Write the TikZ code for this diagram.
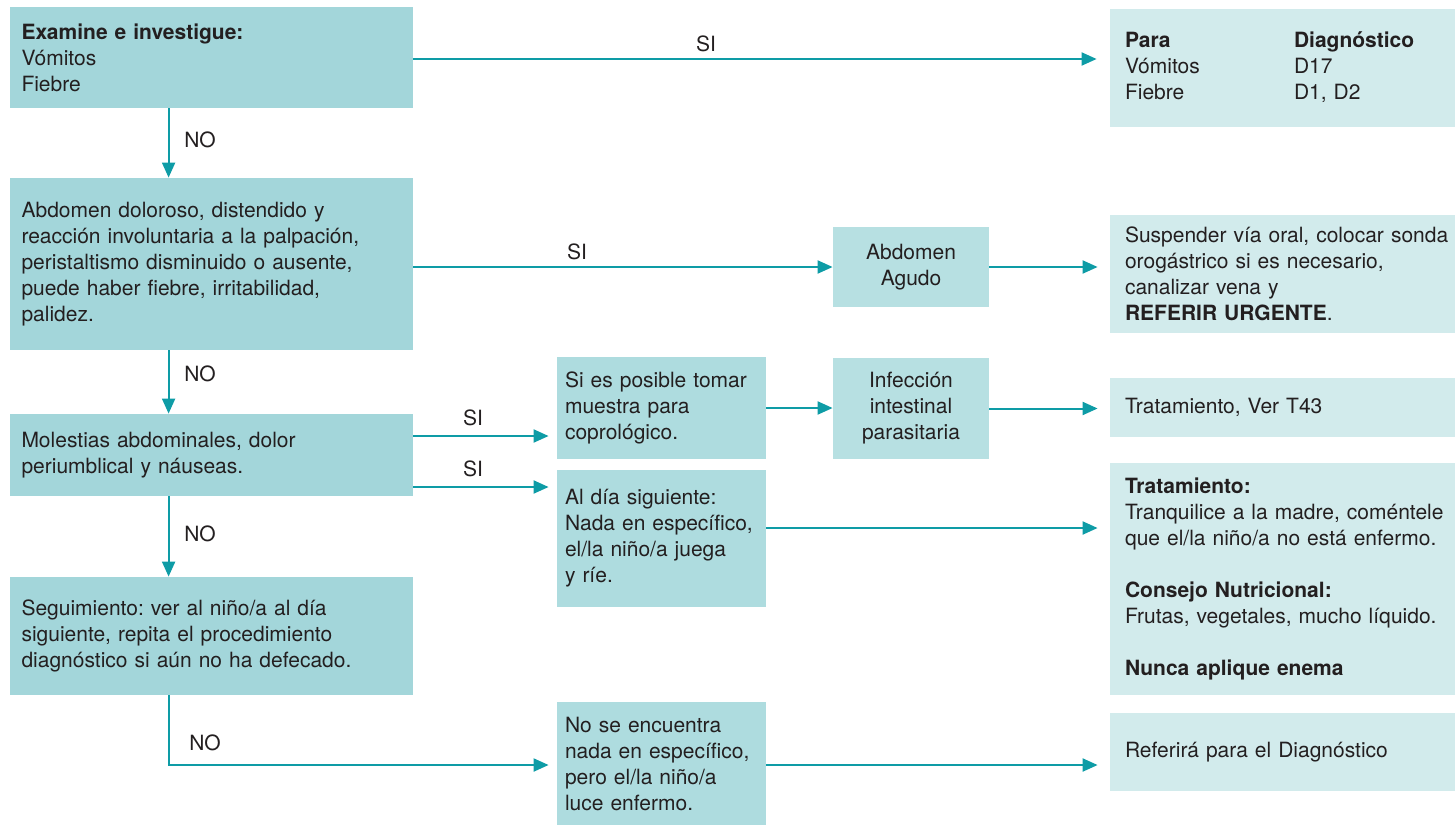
\documentclass[tikz,border=0pt]{standalone}
\usepackage{fontspec}
\setmainfont{TeX Gyre Heros}
\usetikzlibrary{arrows.meta}
\definecolor{arrc}{HTML}{0E9CA6}
\definecolor{lfill}{HTML}{A3D6DA}
\definecolor{mfill}{HTML}{AEDCDF}
\definecolor{cfill}{HTML}{B7E0E2}
\definecolor{rfill}{HTML}{D2EBEC}
\definecolor{txt}{HTML}{231F20}
\frenchspacing
\begin{document}
\begin{tikzpicture}[x=0.5pt,y=-0.5pt,
  every node/.style={font=\fontsize{10.5}{13}\selectfont\frenchspacing, text=txt},
  lbox/.style={fill=lfill, draw=none, minimum width=201.5pt, text width=190pt, inner xsep=5pt, inner ysep=0pt, align=left},
  mbox/.style={fill=mfill, draw=none, minimum width=104.5pt, text width=96.5pt, inner xsep=4pt, inner ysep=0pt, align=left},
  cbox/.style={fill=cfill, draw=none, minimum width=78pt, text width=70pt, inner xsep=4pt, inner ysep=0pt, align=center},
  rbox/.style={fill=rfill, draw=none, minimum width=172.5pt, text width=157.5pt, inner xsep=7.5pt, inner ysep=0pt, align=left},
  arr/.style={draw=arrc, line width=1pt, -{Triangle[length=7.5pt,width=6.5pt]}},
  lbl/.style={inner sep=0pt}
]
\useasboundingbox (0,0) rectangle (1455,825);

% left column
\node[lbox, minimum height=50.5pt] (A) at (211.5,57.5) {\textbf{Examine e investigue:}\\ Vómitos\\ Fiebre};
\node[lbox, minimum height=86pt] (B) at (211.5,264) {Abdomen doloroso, distendido y\\ \mbox{reacción involuntaria a la palpación,}\\ \mbox{peristaltismo disminuido o ausente,}\\ puede haber fiebre, irritabilidad,\\ palidez.};
\node[lbox, minimum height=41pt] (C) at (211.5,455) {Molestias abdominales, dolor\\ periumblical y náuseas.};
\node[lbox, minimum height=59pt] (D) at (211.5,636) {Seguimiento: ver al niño/a al día\\ siguiente, repita el procedimiento\\ \mbox{diagnóstico si aún no ha defecado.}};

% middle column
\node[mbox, minimum height=51pt] (M1) at (661.5,408) {\mbox{Si es posible tomar}\\ muestra para\\ coprológico.};
\node[mbox, minimum height=68.5pt] (M2) at (661.5,538.5) {Al día siguiente:\\ \mbox{Nada en específico,}\\ el/la niño/a juega\\ y ríe.};
\node[mbox, minimum height=61.5pt] (M3) at (661.5,763.5) {No se encuentra\\ \mbox{nada en específico,}\\ pero el/la niño/a\\ luce enfermo.};
\node[cbox, minimum height=40pt] (AA) at (911,267) {Abdomen\\ Agudo};
\node[cbox, minimum height=50.5pt] (INF) at (911,408.5) {Infección\\ intestinal\\ parasitaria};

% right column
\node[rbox, minimum height=59pt] (R1) at (1282.5,68) {\begin{tabular}{@{}p{84.5pt}@{}l@{}}\textbf{Para} & \textbf{Diagnóstico}\\ Vómitos & D17\\ Fiebre & D1, D2\end{tabular}};
\node[rbox, minimum height=59pt] (R2) at (1282.5,274) {\mbox{Suspender vía oral, colocar sonda}\\ orogástrico si es necesario,\\ canalizar vena y\\ \textbf{REFERIR URGENTE}.};
\node[rbox, minimum height=29.5pt] (R3) at (1282.5,407.5) {Tratamiento, Ver T43};
\node[rbox, minimum height=116pt] (R4) at (1282.5,579) {\textbf{Tratamiento:}\\ \mbox{Tranquilice a la madre, coméntele}\\ \mbox{que el/la niño/a no está enfermo.}\\[13pt] \textbf{Consejo Nutricional:}\\ \mbox{Frutas, vegetales, mucho líquido.}\\[13pt] \textbf{Nunca aplique enema}};
\node[rbox, minimum height=39pt] (R5) at (1282.5,752) {Referirá para el Diagnóstico\\[6pt]};

% connectors
\draw[arr, shorten >=6.5pt] ([yshift=-0.75pt]A.east) -- ([yshift=-0.75pt]A.east -| R1.west);
\draw[arr] ([xshift=79.5pt]A.south west) -- ([xshift=79.5pt]B.north west);
\draw[arr] (AA.west -| B.east) -- (AA.west);
\draw[arr, shorten >=6pt] (AA.east) -- (AA.east -| R2.west);
\draw[arr] ([xshift=79.5pt]B.south west) -- ([xshift=79.5pt]C.north west);
\draw[arr, shorten >=4pt] ([yshift=9.5pt]C.east) -- ([yshift=9.5pt]C.east -| M1.west);
\draw[arr, shorten >=4pt] ([yshift=-16pt]C.east) -- ([yshift=-16pt]C.east -| M2.west);
\draw[arr] (M1.east) -- (M1.east -| INF.west);
\draw[arr, shorten >=6pt] (INF.east) -- (INF.east -| R3.west);
\draw[arr, shorten >=6pt] ([yshift=5.25pt]M2.east) -- ([yshift=5.25pt]M2.east -| R4.west);
\draw[arr] ([xshift=79.5pt]C.south west) -- ([xshift=79.5pt]D.north west);
\draw[arr, shorten >=4pt] ([xshift=79.5pt]D.south west) |- ([yshift=-0.75pt]M3.west);
\draw[arr, shorten >=6pt] ([yshift=-0.75pt]M3.east) -- ([yshift=-0.75pt]M3.east -| R5.west);

% labels
\node[lbl] (l1) at (706,44) {SI};
\node[lbl] (l2) at (200,140) {NO};
\node[lbl] (l3) at (577,252) {SI};
\node[lbl] (l4) at (200,374) {NO};
\node[lbl] (l5) at (473,418) {SI};
\node[lbl] (l6) at (473,469) {SI};
\node[lbl] (l7) at (200,534) {NO};
\node[lbl] (l8) at (205,743) {NO};
\end{tikzpicture}
\end{document}
